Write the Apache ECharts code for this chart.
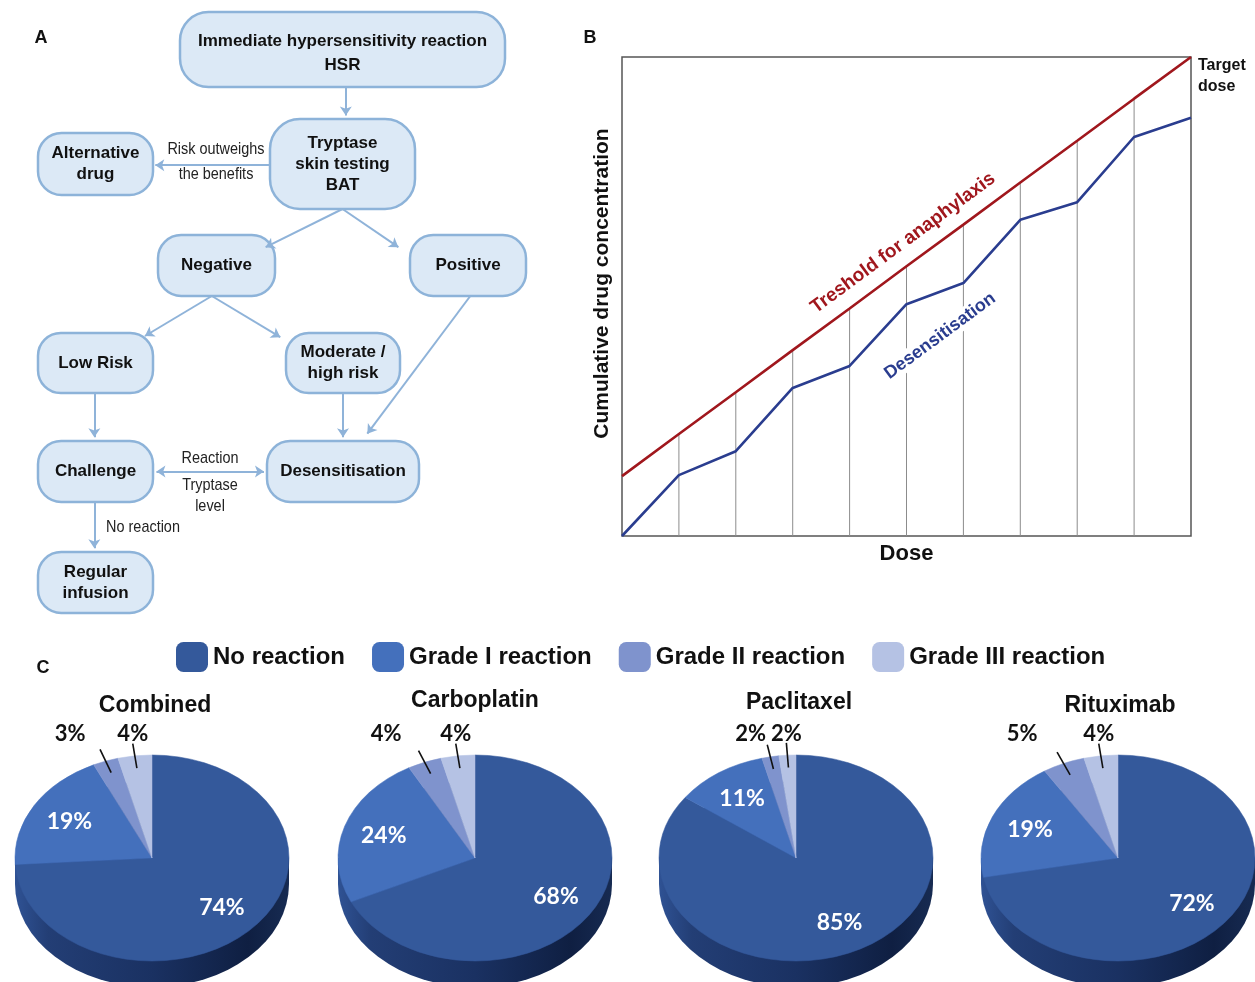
<!DOCTYPE html>
<html><head><meta charset="utf-8">
<script src="https://cdn.jsdelivr.net/npm/echarts@6/dist/echarts.min.js"></script>
<style>html,body{margin:0;padding:0;background:#fff}#c{width:1255px;height:982px}</style>
</head><body><div id="c"></div>
<script>
// ---------------- data ----------------
const FLOW_NODE_IDS = ['hsr','tryp','alt','neg','pos','low','mod','chal','des','reg'];
const FLOW_NODE_TEXT = ['Immediate hypersensitivity reaction\nHSR','Tryptase\nskin testing\nBAT','Alternative\ndrug','Negative','Positive','Low Risk','Moderate /\nhigh risk','Challenge','Desensitisation','Regular\ninfusion'];
const FLOW_EDGES = [['hsr','tryp'],['tryp','alt'],['tryp','neg'],['tryp','pos'],['neg','low'],['neg','mod'],['pos','des'],['low','chal'],['mod','des'],['chal','reg']];
const FLOW_DOUBLE_EDGES = [['chal','des']];
const FLOW_EDGE_TEXT = ['Risk outweighs\nthe benefits','Reaction','Tryptase\nlevel','No reaction'];

const DOSE_STEPS = [0,1,2,3,4,5,6,7,8,9,10];
const THRESHOLD = [12.5,21.3,30,38.8,47.5,56.3,65,73.8,82.5,91.3,100];
const DESENSITISATION = [0,12.7,17.7,30.9,35.5,48.4,52.8,66.0,69.7,83.3,87.3];
const B_LABELS = ['Treshold for anaphylaxis','Desensitisation','Target\ndose'];
const B_AXIS_NAMES = ['Dose','Cumulative drug concentration'];

const REACTION_CATEGORIES = ['No reaction','Grade I reaction','Grade II reaction','Grade III reaction'];
const DRUGS = ['Combined','Carboplatin','Paclitaxel','Rituximab'];
const COMBINED = [74,19,3,4];
const CARBOPLATIN = [68,24,4,4];
const PACLITAXEL = [85,11,2,2];
const RITUXIMAB = [72,19,5,4];
const DRUG_SHARES = [COMBINED, CARBOPLATIN, PACLITAXEL, RITUXIMAB];
const PANEL_LETTERS = ['A','B','C'];

// ---------------- layout / style ----------------
const FONT = '"Liberation Sans", Arial, sans-serif';
const NODE_BOX = {
  hsr:[180,12,325,75], tryp:[270,119,145,90], alt:[38,133,115,62],
  neg:[158,235,117,61], pos:[410,235,116,61], low:[38,333,115,60],
  mod:[286,333,114,60], chal:[38,441,115,61], des:[267,441,152,61], reg:[38,552,115,61]
};
const NODE_TEXT_SHIFT = {hsr:4};
const EDGE_ANCHORS = [
  [[0.51,1],[0.523,-0.04]], [[0,0.51],[1.02,0.52]], [[0.5,1],[0.92,0.2]], [[0.5,1],[-0.1,0.2]],
  [[0.46,1],[0.93,0.05]], [[0.46,1],[-0.05,0.07]], [[0.52,1],[0.66,-0.12]],
  [[0.49,1],[0.49,-0.06]], [[0.5,1],[0.5,-0.06]], [[0.49,1],[0.49,-0.06]]
];
const DOUBLE_ANCHORS = [[[1.03,0.5],[-0.02,0.5]]];
const EDGE_TEXT_POS = [[216,162],[210,458],[210,496],[143,527]];
const PIE_CENTERS = [[152,858],[475,858],[796,858],[1118,858]];
const PIE_TITLE_POS = [[155,706],[475,701],[799,703],[1120,706]];
const PIE_RX = 137, PIE_RY = 103, PIE_DEPTH = 26;
const PIE_COLORS = ['#34599b','#4470bc','#7f93cd','#b5c2e4'];
const LETTER_POS = [[41,38],[590,38],[43,668]];

function anchorPoint(id, a){
  const b = NODE_BOX[id];
  return [b[0] + a[0]*b[2], b[1] + a[1]*b[3]];
}
function edgeData(edges, anchors){
  return edges.map((e,i)=>({coords:[anchorPoint(e[0], anchors[i][0]), anchorPoint(e[1], anchors[i][1])]}));
}

function pieDepthRenderer(params, api){
  const [cx,cy] = PIE_CENTERS[params.dataIndex];
  const grad = {type:'linear', x:0, y:0, x2:1, y2:0, colorStops:[
    {offset:0,color:'#2f5294'},{offset:0.12,color:'#233e75'},{offset:0.5,color:'#1a3162'},
    {offset:0.85,color:'#0f1f42'},{offset:1,color:'#172b52'}]};
  return {type:'group', silent:true, children:[
    {type:'rect', shape:{x:cx-PIE_RX, y:cy, width:2*PIE_RX, height:PIE_DEPTH}, style:{fill:grad}},
    {type:'sector', x:cx, y:cy+PIE_DEPTH, scaleY:PIE_RY/PIE_RX,
     shape:{cx:0,cy:0,r:PIE_RX,r0:0,startAngle:0,endAngle:Math.PI*2}, style:{fill:grad}}
  ]};
}

function pieSliceRenderer(k){
  return function(params, api){
    const i = params.dataIndex;
    const vals = DRUG_SHARES[i];
    const total = vals.reduce((a,b)=>a+b,0);
    let before = 0; for(let j=0;j<k;j++) before += vals[j];
    const v = api.value(0);
    const a0 = -Math.PI/2 + 2*Math.PI*before/total;
    const a1 = a0 + 2*Math.PI*v/total;
    const [cx,cy] = PIE_CENTERS[i];
    const color = api.visual('color');
    const mid = (a0+a1)/2, c = Math.cos(mid), s = Math.sin(mid);
    const children = [{type:'sector', x:cx, y:cy, scaleY:PIE_RY/PIE_RX,
      shape:{cx:0,cy:0,r:PIE_RX,r0:0,startAngle:a0,endAngle:a1,clockwise:true},
      style:{fill:color, stroke:color, lineWidth:0.6}}];
    const label = v + '%';
    if (v >= 10) {
      children.push({type:'text', x:cx+PIE_RX*0.7*c, y:cy+PIE_RY*0.7*s, z2:10,
        style:{text:label, fill:'#fff', fontFamily:'Lato, sans-serif', fontWeight:'bold', fontSize:23, textAlign:'center', textVerticalAlign:'middle'}});
    } else {
      const x1 = cx+PIE_RX*0.88*c, y1 = cy+PIE_RY*0.88*s;
      const x2 = cx+PIE_RX*1.12*c, y2 = cy+PIE_RY*1.12*s;
      const dx = c < -0.15 ? 88*c : 0;
      children.push({type:'line', shape:{x1,y1,x2,y2}, style:{stroke:'#111', lineWidth:1.6}, z2:10});
      children.push({type:'text', x:x2+dx, y:cy-PIE_RY*1.12-9, z2:10,
        style:{text:label, fill:'#111', fontFamily:'Lato, sans-serif', fontWeight:'bold', fontSize:22, textAlign:'center', textVerticalAlign:'middle'}});
    }
    return {type:'group', children};
  };
}

const graphicEls = [];
PANEL_LETTERS.forEach((t,i)=>graphicEls.push({type:'text', x:LETTER_POS[i][0], y:LETTER_POS[i][1],
  style:{text:t, fontFamily:FONT, fontWeight:'bold', fontSize:18, fill:'#111', textAlign:'center', textVerticalAlign:'middle'}}));
// flow edge labels
graphicEls.push({type:'text', x:EDGE_TEXT_POS[0][0], y:EDGE_TEXT_POS[0][1], scaleX:0.85,
  style:{text:FLOW_EDGE_TEXT[0], fontFamily:FONT, fontSize:17, lineHeight:25, fill:'#222', textAlign:'center', textVerticalAlign:'middle'}});
graphicEls.push({type:'text', x:EDGE_TEXT_POS[1][0], y:EDGE_TEXT_POS[1][1], scaleX:0.85,
  style:{text:FLOW_EDGE_TEXT[1], fontFamily:FONT, fontSize:17, fill:'#222', textAlign:'center', textVerticalAlign:'middle'}});
graphicEls.push({type:'text', x:EDGE_TEXT_POS[2][0], y:EDGE_TEXT_POS[2][1], scaleX:0.85,
  style:{text:FLOW_EDGE_TEXT[2], fontFamily:FONT, fontSize:17, lineHeight:21, fill:'#222', textAlign:'center', textVerticalAlign:'middle'}});
graphicEls.push({type:'text', x:EDGE_TEXT_POS[3][0], y:EDGE_TEXT_POS[3][1], scaleX:0.85,
  style:{text:FLOW_EDGE_TEXT[3], fontFamily:FONT, fontSize:17, fill:'#222', textAlign:'center', textVerticalAlign:'middle'}});
// panel B annotations
graphicEls.push({type:'text', x:903, y:243, rotation:36.4*Math.PI/180, z:20,
  style:{text:B_LABELS[0], fontFamily:FONT, fontWeight:'bold', fontSize:19, fill:'#a0171d', textAlign:'center', textVerticalAlign:'middle'}});
graphicEls.push({type:'text', x:940, y:336, rotation:36.4*Math.PI/180, z:20,
  style:{text:B_LABELS[1], fontFamily:FONT, fontWeight:'bold', fontSize:18, fill:'#2a3d8f', textAlign:'center', textVerticalAlign:'middle', backgroundColor:'#fff', padding:[1,3]}});
graphicEls.push({type:'text', x:1198, y:76, z:20,
  style:{text:B_LABELS[2], fontFamily:FONT, fontWeight:'bold', fontSize:16, lineHeight:21, fill:'#111', textAlign:'left', textVerticalAlign:'middle'}});
// pie titles
DRUGS.forEach((d,i)=>graphicEls.push({type:'text', x:PIE_TITLE_POS[i][0], y:PIE_TITLE_POS[i][1],
  style:{text:d, fontFamily:FONT, fontWeight:'bold', fontSize:23, fill:'#111', textAlign:'center', textVerticalAlign:'middle'}}));

const series = [
  {type:'custom', name:'flowNodes', coordinateSystem:'none', silent:true, z:2,
   data: FLOW_NODE_IDS.map((id,i)=>[i]),
   renderItem:(params, api)=>{
     const id = FLOW_NODE_IDS[params.dataIndex];
     const [x,y,w,h] = NODE_BOX[id];
     return {type:'group', children:[
       {type:'rect', shape:{x,y,width:w,height:h,r:Math.min(h*0.38,30)}, style:{fill:'#dce9f6', stroke:'#8db3d9', lineWidth:2.5}},
       {type:'text', x:x+w/2, y:y+h/2+(NODE_TEXT_SHIFT[id]||0), style:{text:FLOW_NODE_TEXT[params.dataIndex], fontFamily:FONT, fontWeight:'bold', fontSize:17,
         lineHeight:id==='hsr'?24:21, fill:'#111', textAlign:'center', textVerticalAlign:'middle'}}
     ]};
   }},
  {type:'lines', name:'flowEdges', coordinateSystem:'cartesian2d', xAxisIndex:0, yAxisIndex:0, silent:true, z:3,
   symbol:['none','arrow'], symbolSize:9, lineStyle:{color:'#8fb3d9', width:2, opacity:1},
   data: edgeData(FLOW_EDGES, EDGE_ANCHORS)},
  {type:'lines', name:'flowDoubleEdges', coordinateSystem:'cartesian2d', xAxisIndex:0, yAxisIndex:0, silent:true, z:3,
   symbol:['arrow','arrow'], symbolSize:9, lineStyle:{color:'#8fb3d9', width:2, opacity:1},
   data: edgeData(FLOW_DOUBLE_EDGES, DOUBLE_ANCHORS)},
  {type:'bar', name:'steps', xAxisIndex:1, yAxisIndex:1, barWidth:1, silent:true, z:2,
   itemStyle:{color:'#8c8c8c'},
   data: DOSE_STEPS.slice(1,-1).map((d,i)=>[d, THRESHOLD[i+1]])},
  {type:'line', name:'Threshold', xAxisIndex:1, yAxisIndex:1, symbol:'none', silent:true, z:4,
   lineStyle:{color:'#a0171d', width:2.6}, data: DOSE_STEPS.map((d,i)=>[d, THRESHOLD[i]])},
  {type:'line', name:'Desensitisation', xAxisIndex:1, yAxisIndex:1, symbol:'none', silent:true, z:4,
   lineStyle:{color:'#2a3d8f', width:2.6}, data: DOSE_STEPS.map((d,i)=>[d, DESENSITISATION[i]])},
  {type:'custom', name:'pieDepth', coordinateSystem:'none', silent:true, z:2,
   data: DRUGS.map((d,i)=>[i]), renderItem: pieDepthRenderer}
];
REACTION_CATEGORIES.forEach((cat,k)=>{
  series.push({type:'custom', name:cat, coordinateSystem:'none', silent:true, z:3,
    itemStyle:{color:PIE_COLORS[k]},
    data: DRUG_SHARES.map(vals=>[vals[k]]),
    renderItem: pieSliceRenderer(k)});
});

const option = {
  backgroundColor:'#fff',
  animation:false,
  textStyle:{fontFamily:FONT},
  legend:{data:REACTION_CATEGORIES, left:176, top:642, padding:0, icon:'roundRect', itemWidth:32, itemHeight:30, itemGap:27,
    selectedMode:false, textStyle:{fontFamily:FONT, fontWeight:'bold', fontSize:24, color:'#111'}},
  grid:[
    {left:0, top:0, right:0, bottom:0, show:false},
    {left:622, top:57, width:569, height:479, show:true, borderColor:'#555', borderWidth:1.5, backgroundColor:'transparent'}
  ],
  xAxis:[
    {gridIndex:0, type:'value', min:0, max:1255, show:false},
    {gridIndex:1, type:'value', min:0, max:10, axisLine:{show:false}, axisTick:{show:false}, axisLabel:{show:false}, splitLine:{show:false},
     name:B_AXIS_NAMES[0], nameLocation:'middle', nameGap:7, nameTextStyle:{fontFamily:FONT, fontWeight:'bold', fontSize:22, color:'#111'}}
  ],
  yAxis:[
    {gridIndex:0, type:'value', min:0, max:982, inverse:true, show:false},
    {gridIndex:1, type:'value', min:0, max:100, axisLine:{show:false}, axisTick:{show:false}, axisLabel:{show:false}, splitLine:{show:false},
     name:B_AXIS_NAMES[1], nameLocation:'middle', nameGap:9, nameTextStyle:{fontFamily:FONT, fontWeight:'bold', fontSize:21, color:'#111', padding:[0,0,0,26]}}
  ],
  graphic:{elements:graphicEls},
  series
};
const chart = echarts.init(document.getElementById('c'), null, {renderer:'canvas'});
chart.setOption(option);
</script></body></html>
